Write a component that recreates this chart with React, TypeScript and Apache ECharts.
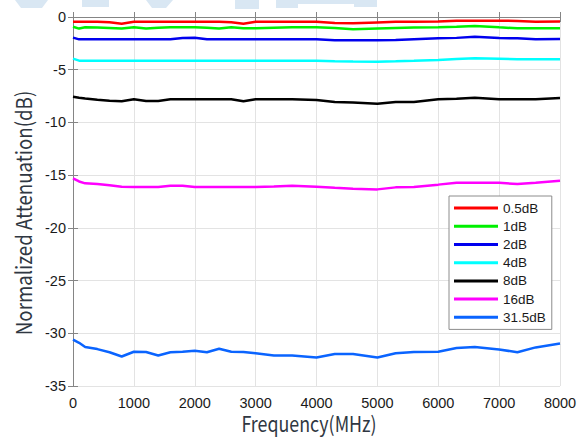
import React, { useEffect, useRef } from "react";
import * as echarts from "echarts";

const freqs = [0, 100, 200, 400, 600, 800, 1000, 1200, 1400, 1600, 1800, 2000, 2200, 2400, 2600, 2800, 3000, 3300, 3600, 4000, 4300, 4600, 5000, 5300, 5600, 6000, 6300, 6600, 7000, 7300, 7600, 8000];

const att05 = [-0.44, -0.44, -0.44, -0.44, -0.5, -0.63, -0.46, -0.44, -0.44, -0.44, -0.44, -0.44, -0.44, -0.44, -0.5, -0.63, -0.46, -0.44, -0.44, -0.46, -0.58, -0.6, -0.52, -0.46, -0.44, -0.42, -0.36, -0.35, -0.35, -0.37, -0.44, -0.43];
const att1 = [-0.92, -1.1, -0.98, -1.0, -1.05, -1.1, -0.98, -1.1, -1.02, -0.98, -0.98, -0.98, -1.02, -1.1, -0.98, -1.07, -1.07, -1.02, -0.98, -0.98, -1.05, -1.17, -1.1, -1.05, -1.0, -0.98, -0.92, -0.85, -0.98, -1.07, -1.07, -1.07];
const att2 = [-1.96, -2.12, -2.12, -2.12, -2.12, -2.12, -2.12, -2.12, -2.12, -2.12, -2.0, -1.96, -2.12, -2.12, -2.12, -2.12, -2.12, -2.12, -2.12, -2.1, -2.21, -2.21, -2.21, -2.18, -2.1, -2.02, -1.98, -1.87, -2.0, -2.02, -2.12, -2.09];
const att4 = [-3.95, -4.14, -4.14, -4.14, -4.14, -4.14, -4.14, -4.14, -4.14, -4.14, -4.14, -4.14, -4.14, -4.14, -4.14, -4.14, -4.14, -4.14, -4.14, -4.16, -4.2, -4.22, -4.24, -4.2, -4.15, -4.08, -3.98, -3.92, -3.95, -4.0, -4.0, -4.0];
const att8 = [-7.56, -7.65, -7.72, -7.85, -7.94, -8.0, -7.81, -7.97, -7.97, -7.81, -7.81, -7.81, -7.81, -7.81, -7.81, -8.0, -7.81, -7.81, -7.81, -7.87, -8.06, -8.1, -8.22, -8.06, -8.06, -7.81, -7.75, -7.65, -7.81, -7.81, -7.81, -7.69];
const att16 = [-15.3, -15.6, -15.78, -15.85, -15.95, -16.1, -16.13, -16.13, -16.13, -16.0, -16.0, -16.13, -16.13, -16.13, -16.13, -16.13, -16.13, -16.08, -16.0, -16.1, -16.2, -16.29, -16.35, -16.16, -16.13, -15.9, -15.72, -15.72, -15.72, -15.85, -15.72, -15.53];
const att315 = [-30.6, -30.9, -31.3, -31.5, -31.8, -32.2, -31.75, -31.78, -32.1, -31.8, -31.75, -31.66, -31.8, -31.47, -31.75, -31.78, -31.9, -32.1, -32.1, -32.3, -31.97, -31.97, -32.3, -31.9, -31.78, -31.75, -31.4, -31.3, -31.53, -31.8, -31.34, -30.97];

const seriesNames = ["0.5dB", "1dB", "2dB", "4dB", "8dB", "16dB", "31.5dB"];
const seriesValues = [att05, att1, att2, att4, att8, att16, att315];
const seriesColors = ["#ff0000", "#00f000", "#0000ee", "#00ffff", "#000000", "#ff00ff", "#0a64ff"];

const xTitle = "Frequency(MHz)";
const yTitle = "Normalized Attenuation(dB)";

const wmColor = "#d9e7f3";

export default function App() {
  const ref = useRef<HTMLDivElement>(null);
  useEffect(() => {
    if (!ref.current) return;
    const chart = echarts.init(ref.current, null, { renderer: "svg" });
    const axisLine = { show: true, lineStyle: { color: "#858585", width: 1 } };
    const tickFont = { fontFamily: "Liberation Sans, Arial, sans-serif", fontSize: 14.5, color: "#1a1a1a" };
    const fmt = (v: number) => String(v);
    const wm = (x: number, w: number, h: number) => ({
      type: "rect", left: x, top: 0, z: 10, shape: { width: w, height: h }, style: { fill: wmColor },
    });
    chart.setOption({
      animation: false,
      backgroundColor: "#ffffff",
      grid: { left: 73, right: 24, top: 17, bottom: 53, containLabel: false },
      xAxis: [
        {
          type: "value", min: 0, max: 8000, interval: 1000,
          axisLine, axisTick: { show: true, inside: true, length: 5, lineStyle: { color: "#858585" } },
          axisLabel: { ...tickFont, margin: 9, formatter: fmt },
          splitLine: { show: true, lineStyle: { color: "#e3e3e3", width: 1 } },
        },
        {
          type: "value", position: "top", min: 0, max: 8000, interval: 1000,
          axisLine, axisTick: { show: true, inside: true, length: 5, lineStyle: { color: "#858585" } },
          axisLabel: { show: false }, splitLine: { show: false },
        },
      ],
      yAxis: [
        {
          type: "value", min: -35, max: 0, interval: 5,
          axisLine, axisTick: { show: true, inside: true, length: 5, lineStyle: { color: "#858585" } },
          axisLabel: { ...tickFont, margin: 7, formatter: fmt },
          splitLine: { show: true, lineStyle: { color: "#e3e3e3", width: 1 } },
        },
        {
          type: "value", position: "right", min: -35, max: 0, interval: 5,
          axisLine, axisTick: { show: true, inside: true, length: 5, lineStyle: { color: "#858585" } },
          axisLabel: { show: false }, splitLine: { show: false },
        },
      ],
      legend: {
        orient: "vertical",
        left: 449, top: 196,
        data: seriesNames,
        icon: "rect",
        itemWidth: 44, itemHeight: 3, itemGap: 4,
        padding: [5, 6, 5, 5],
        backgroundColor: "#ffffff",
        borderColor: "#8c8c8c", borderWidth: 1, borderRadius: 0,
        textStyle: { fontFamily: "Liberation Sans, Arial, sans-serif", fontSize: 13.5, color: "#1a1a1a", lineHeight: 14.2 },
      },
      series: seriesNames.map((name, i) => ({
        name, type: "line",
        xAxisIndex: 0, yAxisIndex: 0,
        data: freqs.map((f, j) => [f, seriesValues[i][j]]),
        showSymbol: false, symbol: "none",
        lineStyle: { color: seriesColors[i], width: 2.5 },
        itemStyle: { color: seriesColors[i] },
        z: 3,
      })),
      graphic: [
        { type: "polygon", left: 15, top: 0, z: 10, shape: { points: [[0, 0], [33, 0], [27, 8], [6, 8]] }, style: { fill: wmColor } },
        wm(82, 27, 7),
        { type: "polygon", left: 146, top: 0, z: 10, shape: { points: [[0, 0], [27, 0], [20, 8], [6, 8]] }, style: { fill: wmColor } },
        wm(235, 24, 9),
        wm(276, 22, 8),
        wm(298, 56, 4),
        wm(354, 23, 7),
        {
          type: "text", x: 309, y: 423, scaleX: 0.85,
          style: { text: xTitle, fontFamily: "Noto Sans CJK SC, Noto Sans, sans-serif", fontSize: 21, fill: "#2f3742", align: "center", verticalAlign: "middle" },
        },
        {
          type: "text", x: 22, y: 213, rotation: Math.PI / 2, scaleX: 0.85,
          style: { text: yTitle, fontFamily: "Noto Sans CJK SC, Noto Sans, sans-serif", fontSize: 22, fill: "#2f3742", align: "center", verticalAlign: "middle" },
        },
      ],
    });
    return () => chart.dispose();
  }, []);
  return <div ref={ref} style={{ position: "absolute", left: 0, top: 0, width: 584, height: 439 }} />;
}
